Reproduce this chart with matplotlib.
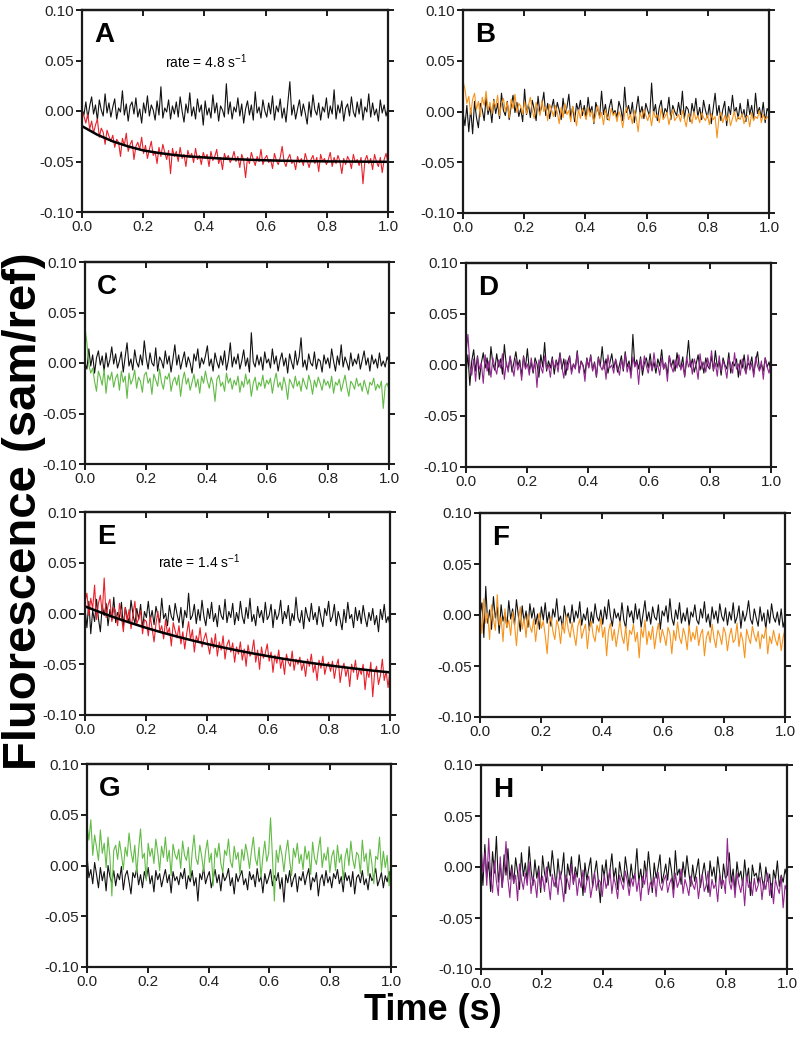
import numpy as np
import matplotlib
matplotlib.use("Agg")
import matplotlib.pyplot as plt

plt.rcParams['font.family'] = ['Liberation Sans', 'DejaVu Sans']
plt.rcParams['axes.unicode_minus'] = False
plt.rcParams['mathtext.fontset'] = 'custom'
plt.rcParams['mathtext.rm'] = 'Liberation Sans'
plt.rcParams['mathtext.default'] = 'regular'

# ---- data (fluorescence in units of 0.001 sam/ref, evenly spaced over 0-1 s) ----
a_black = [2,-4,9,-7,5,14,-3,6,-9,11,1,-5,17,-2,8,-6,
           4,12,-8,3,-1,20,-4,7,-10,5,9,-3,13,-6,2,-12,
           8,-2,15,-5,6,1,-9,10,-4,24,-7,3,-1,11,-8,5,
           -3,9,-6,14,0,-11,7,-2,18,-5,4,-8,12,-1,6,-14,
           10,-4,3,-7,16,-2,8,-10,5,1,-6,27,-3,9,-8,4,
           -1,13,-5,7,-12,2,10,-4,6,-9,19,-2,4,-7,11,0,
           -6,8,-3,15,-9,5,-1,12,-7,3,-11,9,29,-4,6,-8,
           2,11,-5,7,-2,-13,9,-6,16,1,-4,8,-9,4,-1,13,
           -7,5,-3,21,-8,6,-2,10,-10,3,7,-5,14,-1,-6,9,
           -3,12,-9,4,-1,17,-6,8,-4,2,-10,11,-2,6,-5,3]
a_red = [0,-5,-12,-3,-18,-10,-22,-14,-8,-26,-17,-21,-33,-19,-25,-30,
         -24,-36,-28,-31,-45,-27,-34,-22,-40,-33,-29,-48,-35,-31,-38,-26,
         -42,-34,-47,-38,-30,-44,-40,-52,-36,-45,-33,-41,-48,-39,-62,-37,
         -45,-40,-50,-36,-47,-43,-55,-39,-46,-42,-51,-37,-48,-44,-53,-41,
         -47,-43,-55,-40,-49,-45,-38,-52,-46,-58,-42,-48,-44,-51,-47,-40,
         -50,-45,-56,-43,-49,-66,-46,-52,-41,-48,-54,-45,-50,-38,-53,-47,
         -44,-51,-48,-57,-42,-49,-53,-46,-35,-50,-55,-47,-43,-52,-49,-58,
         -45,-51,-47,-54,-42,-49,-56,-48,-44,-52,-46,-60,-43,-50,-47,-53,
         -48,-41,-55,-46,-52,-44,-50,-62,-47,-53,-45,-49,-57,-43,-51,-48,
         -54,-46,-72,-49,-44,-52,-47,-58,-43,-50,-55,-46,-61,-48,-42,-52]
a_fit = [-15,-23.5,-30,-35,-39,-41.5,-43.5,-45,-46,-47,-47.7,-48.3,-48.8,-49.2,-49.5,
         -49.7,-49.9,-50,-50.1,-50.2,-50.3]
b_black = [0,-14,6,-20,3,-22,10,-6,-16,8,2,-9,14,-3,5,-11,
           12,-2,8,-7,18,1,-4,10,-8,5,16,-1,9,-5,3,-10,
           22,-3,7,-6,11,2,-9,15,-2,6,19,-4,8,-7,3,12,
           -5,9,1,-8,13,-2,4,17,-6,5,-10,8,0,11,-4,6,
           -7,14,-1,5,-12,9,2,-5,20,-3,7,-8,4,12,-2,1,
           -6,10,3,-9,24,-1,6,-4,9,-11,2,15,-3,5,-7,8,
           1,-5,28,-2,7,-9,4,11,-6,3,-1,14,-8,6,0,-4,
           9,-3,20,-7,5,2,-10,8,-2,13,-5,4,-8,11,1,-6,
           7,-12,3,18,-4,6,-9,2,10,-14,5,-3,16,-1,4,-7,
           8,-5,2,-10,12,-3,6,-8,18,-2,4,-6,9,-11,3,-1]
b_orange = [30,22,8,15,-3,12,18,2,10,-5,14,6,20,1,9,-2,
            11,4,16,-4,7,13,0,9,-6,12,3,17,-1,8,5,-3,
            10,-2,6,14,1,-7,9,3,-4,11,0,5,-9,7,2,-5,
            6,-1,-12,4,-6,8,-3,1,-10,5,-4,-14,2,-7,3,-2,
            -8,4,-5,1,-11,-3,6,-7,-1,-13,2,-6,-9,3,-4,-1,
            -10,0,-5,-16,-2,4,-8,-3,-12,1,-6,-20,-1,-7,2,-4,
            -9,-2,-14,0,-6,-3,-11,3,-8,-5,-1,-13,-4,2,-9,-6,
            -3,-10,1,-7,-15,-2,-5,-12,0,-8,-4,-11,-1,-6,-9,-3,
            -13,-2,-8,-5,-26,-6,-1,-11,-4,-9,-3,-14,-7,0,-10,-5,
            -8,-2,-12,-6,-4,-15,-1,-9,-5,-7,1,-11,-3,-8,-6,-4]
c_black = [0,-6,14,-3,8,-10,5,12,-2,7,-8,10,-4,3,16,-1,
           9,-5,2,11,-9,6,20,-3,4,-7,13,1,-4,8,-2,22,
           5,-6,10,0,-3,15,-8,6,2,-5,12,-1,7,-9,4,18,
           -2,8,-6,3,11,-4,6,0,-10,9,2,14,-5,5,-1,7,
           17,-3,4,-8,10,1,-5,7,-2,12,-7,3,20,-4,6,-1,
           9,-6,2,13,-3,5,-9,30,1,-4,8,-2,6,-7,11,0,
           4,-5,14,-1,7,-8,3,10,-3,5,-10,9,1,-6,12,-2,
           6,25,-4,3,-7,9,0,-3,11,-6,4,2,-9,8,-1,5,
           -5,14,2,-8,7,-2,18,-4,6,0,-7,10,-3,4,-1,9,
           -6,3,12,-2,5,-8,8,-1,4,-5,10,-3,2,-4,6,1]
c_green = [35,20,-2,-10,-5,-18,-28,-8,-14,-22,-6,-30,-12,-17,-9,-24,
           -15,-11,-27,-8,-19,-13,-35,-10,-21,-16,-7,-25,-14,-18,-29,-12,
           -9,-20,-15,-31,-11,-17,-23,-6,-19,-26,-13,-16,-10,-28,-18,-14,
           -22,-12,-33,-17,-9,-21,-15,-27,-19,-11,-24,-16,-30,-13,-20,-8,
           -18,-25,-14,-21,-38,-16,-12,-23,-19,-28,-10,-20,-15,-26,-17,-22,
           -13,-29,-18,-24,-11,-21,-16,-33,-20,-14,-27,-19,-23,-12,-25,-17,
           -21,-15,-30,-18,-10,-24,-19,-27,-14,-22,-36,-16,-20,-25,-13,-23,
           -18,-28,-15,-21,-26,-12,-19,-31,-17,-24,-14,-20,-27,-16,-22,-18,
           -25,-13,-30,-19,-22,-16,-28,-20,-12,-24,-33,-18,-21,-26,-15,-23,
           -20,-28,-17,-24,-31,-19,-22,-15,-27,-21,-25,-18,-45,-23,-20,-26]
d_black = [-8,10,-20,4,15,-6,9,-14,2,12,-3,7,-10,18,1,-5,
           11,-2,6,-9,20,0,-4,8,-7,3,13,-1,5,-11,9,-3,
           16,-5,2,-8,7,1,-12,10,-2,22,-6,4,-3,8,-9,5,
           -1,12,-4,6,-10,3,9,-6,1,-3,14,-7,4,0,-9,7,
           -2,10,-5,3,-12,8,-1,18,-4,6,-8,2,11,-3,5,-7,
           0,9,-6,13,-2,4,-9,30,-1,5,-4,8,-10,2,7,-3,
           11,-5,3,-8,6,-1,15,-4,2,-9,9,-2,5,-6,12,0,
           -3,8,-11,4,24,-2,6,-7,1,10,-5,3,-8,7,-1,-4,
           9,-6,14,-2,4,-10,7,0,-4,12,-8,3,-1,6,-12,5,
           -3,10,-7,2,-1,8,-9,4,13,-5,1,-6,7,-2,3,-8]
d_purple = [12,30,0,-10,6,-16,8,-4,2,-18,10,-6,4,-12,7,-2,
            -9,5,-3,11,-14,3,-7,9,-1,-11,6,-5,2,-15,8,-4,
            1,-10,7,-6,3,-22,5,-2,-8,9,-4,0,-12,6,-3,4,
            -7,10,-2,-13,5,-5,8,-9,1,-4,12,-8,3,-1,-16,6,
            -3,9,-6,2,-11,7,-1,-5,4,-14,10,-3,0,-8,6,-2,
            -10,5,-4,11,-7,1,-13,8,-2,3,-19,6,-5,9,-1,-8,
            4,-6,12,-3,0,-10,7,-4,2,-16,9,-1,-7,5,-3,10,
            -5,1,-12,8,-2,4,-9,6,-1,-14,11,-4,3,-7,7,-3,
            14,-5,2,-11,9,-6,4,-2,-13,7,0,-8,12,-4,1,-10,
            6,-3,-9,10,-5,2,-12,8,-1,-6,4,-14,7,-2,-8,3]
e_black = [5,-14,12,-20,3,-8,14,-5,-18,8,-2,10,-12,4,-6,16,
           -9,1,-4,11,-13,6,-3,-8,13,-1,-10,5,-6,9,-15,2,
           -4,12,-7,3,-11,7,-2,-9,15,-5,0,-12,8,-3,-7,10,
           -1,-9,6,-14,3,-4,20,-6,-2,9,-10,4,-7,13,-3,-12,
           5,-5,11,-8,0,-13,8,-2,-6,14,-9,2,-4,10,-11,1,
           -7,12,-3,-10,6,-5,15,-8,-1,-12,7,-4,3,-9,11,-6,
           -2,9,-14,4,-6,-1,13,-10,2,-5,8,-12,0,-7,16,-4,
           -9,3,-15,6,-3,-8,10,-6,1,-11,7,-4,-13,5,-2,12,
           -8,-3,9,-12,2,-6,-16,4,-9,11,-5,-1,-14,6,-7,3,
           -10,8,-4,-13,1,-7,5,-11,-2,-18,4,-6,9,-9,-3,-12]
e_red = [12,20,-2,15,5,28,-6,10,18,0,35,-4,8,14,-8,6,
         2,-12,10,-3,-18,6,-8,4,-15,-1,12,-10,-5,3,-20,-6,
         -8,-22,-3,-15,-28,-10,2,-18,-12,-25,-6,-20,-14,-32,-9,-17,
         -24,-12,-30,-18,-35,-20,-8,-26,-16,-38,-22,-28,-14,-33,-25,-19,
         -30,-40,-24,-34,-20,-42,-28,-36,-22,-45,-31,-26,-38,-29,-48,-33,
         -40,-28,-46,-35,-52,-31,-42,-38,-26,-48,-36,-55,-33,-44,-39,-30,
         -47,-38,-58,-41,-49,-36,-54,-44,-60,-40,-48,-52,-37,-56,-45,-50,
         -43,-56,-48,-62,-45,-52,-40,-58,-50,-66,-46,-54,-42,-60,-51,-48,
         -57,-47,-64,-52,-45,-68,-55,-49,-62,-53,-72,-50,-58,-46,-65,-54,
         -60,-50,-75,-56,-63,-48,-82,-58,-52,-70,-61,-45,-66,-57,-73,-55]
e_fit = [7,1.2,-4.3,-9.3,-14.1,-18.5,-22.6,-26.4,-30,-33.3,-36.4,-39.3,-42,-44.6,-46.9,
         -49.1,-51.1,-53,-54.8,-56.5,-58]
f_black = [0,12,-22,28,-8,5,-14,18,-3,8,-18,10,-6,2,-12,14,
           -4,6,-10,15,-1,-16,9,-7,4,-12,11,-3,7,-9,1,-14,
           8,-5,12,-8,3,-11,6,-2,16,-6,-1,-13,9,-4,2,-8,
           10,-7,4,-3,13,-10,1,-5,7,-15,3,-8,11,-2,-6,5,
           -9,8,-4,15,-1,-11,6,-3,2,-7,12,-5,-13,9,-2,4,
           -8,11,-4,6,-12,1,14,-6,3,-9,8,-2,-5,10,-14,4,
           -1,9,-7,16,-3,-10,5,-4,12,-8,2,-6,7,-11,3,-2,
           10,-5,-9,6,-3,13,-7,1,-12,8,-4,4,-8,11,-1,-6,
           7,-10,3,-5,12,-8,-2,9,-13,4,-6,1,14,-4,-9,6,
           -3,-11,8,-6,2,-14,5,-8,11,-2,-7,3,-10,6,-12,-4]
f_orange = [5,-18,16,-8,2,-24,10,-4,-15,20,-10,-2,-26,6,-12,-5,
            -20,3,-9,-30,-6,8,-14,-3,-22,1,-11,-17,-4,-26,-8,2,
            -13,-6,-20,-38,-9,-2,-16,-24,-5,-12,-28,-8,-18,0,-14,-22,
            -7,-19,-30,-11,-4,-23,-15,-9,-33,-13,-6,-20,-26,-10,-17,-3,
            -22,-12,-40,-16,-8,-25,-14,-31,-18,-6,-21,-28,-11,-35,-15,-19,
            -9,-26,-17,-42,-13,-22,-5,-29,-16,-24,-11,-33,-19,-8,-27,-14,
            -21,-30,-12,-18,-38,-15,-25,-7,-22,-28,-13,-20,-34,-10,-26,-17,
            -24,-11,-30,-19,-14,-40,-22,-16,-27,-9,-23,-32,-15,-20,-29,-12,
            -18,-35,-21,-13,-27,-24,-8,-31,-17,-25,-42,-14,-22,-28,-11,-20,
            -26,-16,-33,-19,-23,-12,-38,-21,-28,-15,-24,-30,-18,-35,-22,-14]
g_black = [10,-12,-4,-18,3,-9,-22,-2,-15,-6,-25,0,-11,-17,-5,-20,
           -8,-14,-1,-24,-10,-5,-16,-28,-7,-12,-3,-19,-9,-22,-6,-13,
           -2,-18,-10,-26,-5,-14,-8,-21,-12,-4,-17,-9,-27,-6,-15,-11,
           -19,-7,-13,-3,-23,-10,-16,-5,-20,-12,-35,-8,-14,-2,-18,-11,
           -6,-22,-13,-4,-17,-9,-25,-7,-15,-11,-3,-20,-12,-28,-8,-16,
           -10,-5,-19,-13,-24,-6,-14,-9,-21,-3,-16,-11,-27,-8,-18,-12,
           -4,-20,-10,-15,-7,-23,-12,-36,-9,-17,-5,-21,-13,-8,-26,-11,
           -15,-6,-19,-10,-3,-24,-12,-16,-7,-30,-14,-9,-20,-5,-17,-11,
           -22,-8,-13,-4,-18,-11,-26,-7,-15,-10,-21,-6,-28,-12,-9,-17,
           -5,-19,-13,-24,-8,-15,-11,-3,-20,-14,-7,-22,-10,-16,-6,-18]
g_green = [40,25,45,10,30,18,5,35,12,22,-2,28,8,-30,15,20,
           6,24,11,-4,18,9,32,14,3,20,-8,16,36,7,12,-15,
           22,9,17,2,26,13,-5,19,8,28,4,15,-10,21,11,6,
           16,-3,24,10,5,18,-12,13,30,7,1,20,9,-6,14,25,
           3,12,-20,17,8,22,2,-7,15,10,26,4,-2,19,6,13,
           -8,16,5,21,11,-3,14,28,7,0,18,-12,9,24,4,12,
           47,8,-35,15,3,20,10,-6,13,25,5,-10,17,8,22,2,
           11,-4,19,6,14,-9,23,7,1,16,28,-2,12,5,18,-7,
           9,15,-5,20,3,11,-14,8,17,0,24,6,-3,13,10,-8,
           25,4,12,-10,16,2,-18,9,6,28,-6,14,-2,10,-20,5]
h_black = [10,-18,22,-10,5,-24,15,-6,30,-15,3,-20,12,-8,18,-12,
           2,-16,9,-5,-22,14,-9,4,-14,20,-3,-18,7,-11,1,-25,
           11,-6,-15,5,-9,16,-2,-20,8,-12,-4,14,-26,3,-8,10,
           -17,0,-10,12,-5,-28,4,-13,-1,9,-20,-6,6,-14,-35,2,
           -9,7,-18,-3,13,-11,-1,-22,5,-8,-15,10,-4,-19,3,-12,
           -6,18,-14,-2,-20,6,-9,15,-5,-25,4,-11,-1,12,-16,-7,
           3,-13,9,-4,-22,16,-8,-2,-17,5,-10,11,-6,-19,2,-14,
           -3,8,-20,-7,4,-12,-25,6,-9,0,-16,10,-5,-21,3,-11,
           -8,14,-15,-2,-24,5,-10,-4,-18,7,-13,-1,-28,2,-9,-6,
           -16,4,-11,-22,0,-14,-7,-30,-3,-12,6,-19,-8,-15,-2,-10]
h_purple = [22,-5,14,-18,28,-10,-25,6,-14,-28,10,-20,-4,25,-12,-30,
            -2,-16,-8,-33,3,-12,-22,-6,-18,5,-26,-10,-14,-30,-3,-20,
            -9,-24,0,-15,-32,-7,-19,-11,-27,-4,-17,-34,-8,-13,-22,2,
            -16,-6,-28,-11,-20,-3,-25,-14,-9,-30,-18,-5,-23,-12,-15,-29,
            -7,-21,-13,-2,-26,-10,-18,-31,-8,-16,-22,-4,-14,-28,-11,-19,
            -6,-24,-12,-33,-9,-17,-3,-27,-15,-20,-10,-29,-5,-18,-23,-13,
            -8,-25,-16,-11,-30,-6,-20,-14,-2,-26,-12,-19,-28,-9,-17,-22,
            -10,-31,-15,-7,-24,-18,-4,-29,-12,-21,-16,-34,-8,-19,-13,-26,
            28,-14,-22,-9,-30,-6,-17,-25,-12,-38,-8,-20,-15,-28,-11,-24,
            -18,-10,-32,-14,-22,-6,-28,-16,-36,-12,-20,-26,-9,-40,-18,-24]

panel_letters = ['A', 'B', 'C', 'D', 'E', 'F', 'G', 'H']
rate_labels = {'A': 'rate = 4.8 s$^{-1}$', 'E': 'rate = 1.4 s$^{-1}$'}
y_ticks = [-0.10, -0.05, 0.00, 0.05, 0.10]
y_ticklabels = ['-0.10', '-0.05', '0.00', '0.05', '0.10']
x_ticks = [0.0, 0.2, 0.4, 0.6, 0.8, 1.0]
x_ticklabels = ['0.0', '0.2', '0.4', '0.6', '0.8', '1.0']

RED = '#e8212b'
ORANGE = '#f7941d'
GREEN = '#62bb46'
PURPLE = '#92278f'
BLACK = '#111111'

panels = {
    'A': [(a_black, BLACK), (a_red, RED)],
    'B': [(b_black, BLACK), (b_orange, ORANGE)],
    'C': [(c_black, BLACK), (c_green, GREEN)],
    'D': [(d_black, BLACK), (d_purple, PURPLE)],
    'E': [(e_black, BLACK), (e_red, RED)],
    'F': [(f_black, BLACK), (f_orange, ORANGE)],
    'G': [(g_black, BLACK), (g_green, GREEN)],
    'H': [(h_black, BLACK), (h_purple, PURPLE)],
}
fits = {'A': a_fit, 'E': e_fit}

# pixel boxes (x0, x1, ytop, ybottom)
W, H = 800, 1037
boxes = {
    'A': (82, 388, 10, 212), 'B': (463, 769, 10, 213),
    'C': (85, 389, 262, 464), 'D': (466, 771, 263, 467),
    'E': (85, 390, 512, 715), 'F': (480, 785, 513, 717),
    'G': (87, 391, 764, 967), 'H': (481, 787, 765, 969),
}
rate_pos = {'A': (0.27, 0.0485), 'E': (0.24, 0.051)}

fig = plt.figure(figsize=(W / 100, H / 100), dpi=100)

for letter in panel_letters:
    x0, x1, yt, yb = boxes[letter]
    ax = fig.add_axes([x0 / W, 1 - yb / H, (x1 - x0) / W, (yb - yt) / H])
    for vals, col in panels[letter]:
        y = np.asarray(vals, dtype=float) * 1e-3
        t = np.linspace(0, 1, len(y))
        ax.plot(t, y, color=col, lw=0.8)
    if letter in fits:
        yf = np.asarray(fits[letter], dtype=float) * 1e-3
        tf = np.linspace(0, 1, len(yf))
        ax.plot(tf, yf, color='black', lw=1.8)
    if letter in rate_labels:
        rx, ry = rate_pos[letter]
        ax.text(rx, ry, rate_labels[letter], transform=ax.get_yaxis_transform(),
                ha='left', va='center', fontsize=10)
    ax.text(0.04, 0.94, letter, transform=ax.transAxes, fontsize=20,
            fontweight='bold', ha='left', va='top')
    ax.set_xlim(0, 1)
    ax.set_ylim(-0.10, 0.10)
    ax.set_xticks(x_ticks)
    ax.set_xticklabels(x_ticklabels)
    ax.set_yticks(y_ticks)
    ax.set_yticklabels(y_ticklabels)
    for s in ax.spines.values():
        s.set_linewidth(1.6)
        s.set_color('#1a1a1a')
    ax.tick_params(axis='both', labelsize=11, width=1.4, length=4, direction='out', pad=1.5,
                   colors='#1a1a1a', labelcolor='#222222')
    ax.tick_params(axis='y', right=True)
    top = ax.secondary_xaxis('top')
    top.set_xticks(x_ticks)
    top.tick_params(direction='in', length=4, width=1.4, labeltop=False, colors='#1a1a1a')
    top.spines['top'].set_linewidth(1.6)

fig.text(24 / W, 1 - 511 / H, 'Fluorescence (sam/ref)', rotation=90, ha='center', va='center',
         fontsize=34, fontweight='bold')
fig.text(433 / W, 1 - 1011 / H, 'Time (s)', ha='center', va='center',
         fontsize=26, fontweight='bold')

fig.savefig('out.png', dpi=100)
